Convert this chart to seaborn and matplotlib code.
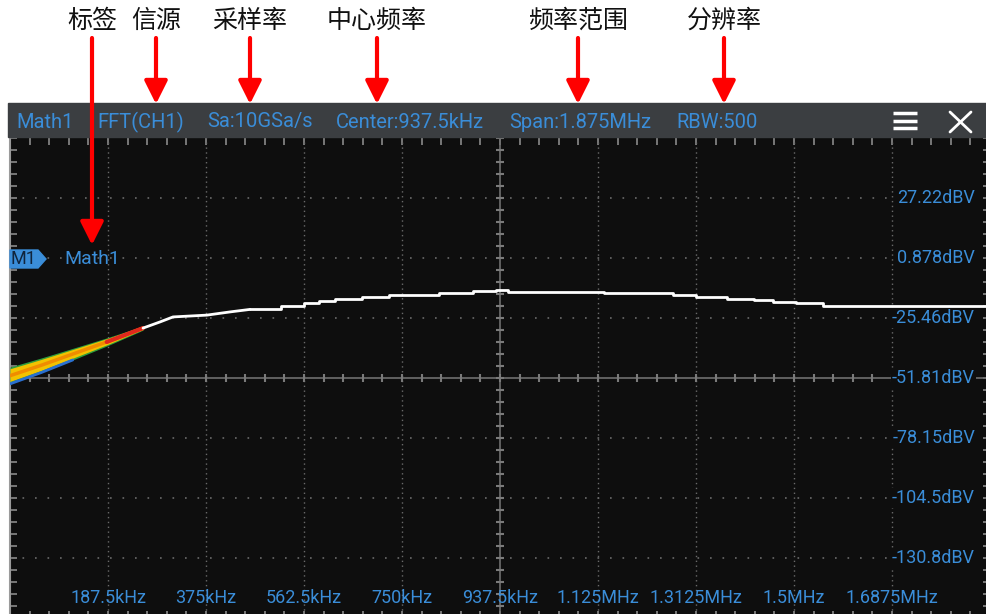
# FFT 频谱界面示意图（示波器截图重绘）
import matplotlib.pyplot as plt
import numpy as np
import seaborn as sns
from matplotlib.patches import Polygon, Rectangle

sns.set_style("dark")
plt.rcParams['font.family'] = ['Roboto', 'Noto Sans CJK SC', 'DejaVu Sans']
plt.rcParams['axes.unicode_minus'] = False

# ---- 数据：频率 kHz，幅度 dBV ----
ramp_freq = [254.5, 287.0, 311.9, 344.4, 376.9, 420.9, 459.2]
ramp_db = [-29.9, -27.2, -25.0, -24.6, -24.2, -22.8, -21.7]

step_freq = [459.2, 474.5, 518.5, 562.5, 591.2, 621.8, 673.5, 725.1, 769.1,
             820.8, 841.8, 885.8, 929.8, 952.8, 1136.5, 1268.5, 1312.5,
             1371.8, 1423.5, 1459.8, 1503.8, 1555.5, 1875.0]
step_db = [-21.7, -21.3, -20.0, -18.7, -17.9, -17.0, -16.1, -15.5, -15.2,
           -14.6, -14.3, -13.7, -13.1, -13.9, -14.5, -15.2, -16.1,
           -17.0, -17.6, -18.4, -19.1, -20.0, -20.0]

# 低频段余辉色带
band_freq = [0, 60, 120, 185, 254.5]
band_top = [-47.0, -43.0, -38.8, -34.2, -29.0]
band_mid = [-50.8, -46.2, -41.3, -36.0, -29.9]
band_bot = [-54.4, -49.4, -43.9, -37.8, -30.8]

freq_ticks = [187.5, 375, 562.5, 750, 937.5, 1125, 1312.5, 1500, 1687.5]
freq_labels = ["187.5kHz", "375kHz", "562.5kHz", "750kHz", "937.5kHz",
               "1.125MHz", "1.3125MHz", "1.5MHz", "1.6875MHz"]
db_ticks = [27.22, 0.878, -25.46, -51.81, -78.15, -104.5, -130.8]
db_labels = ["27.22dBV", "0.878dBV", "-25.46dBV", "-51.81dBV",
             "-78.15dBV", "-104.5dBV", "-130.8dBV"]

header_items = ["Math1", "FFT(CH1)", "Sa:10GSa/s", "Center:937.5kHz",
                "Span:1.875MHz", "RBW:500"]
header_x = [16, 97, 207, 336, 509, 676]

callouts = ["标签", "信源", "采样率", "中心频率", "频率范围", "分辨率"]
callout_x = [92, 156, 250, 377, 578, 724]
callout_tip = [245, 104, 104, 104, 104, 104]

BLUE = "#3a8dd8"
GRID = "#6a6a6a"
BG = "#0e0e0e"

fig = plt.figure(figsize=(9.87, 6.14), dpi=100)
fig.patch.set_facecolor("white")

# 主绘图区：10 格 x 8 格
ax = fig.add_axes([10 / 987, -4 / 614, 980 / 987, 480 / 614])
ax.set_facecolor(BG)
ax.grid(False)
x_div = 187.5
y_div = 26.34
ax.set_xlim(0, 10 * x_div)
ax.set_ylim(-51.81 - 4 * y_div, -51.81 + 4 * y_div)

for f in freq_ticks:
    if f != 937.5:
        ax.axvline(f, color=GRID, lw=1, ls=(0, (1, 2.5)), zorder=1)
for d in db_ticks:
    if d != -51.81:
        ax.axhline(d, color=GRID, lw=1.2, ls=(0, (1, 6.5)), zorder=1)

# 中心十字线及刻度
ax.axvline(937.5, color="#6f6f6f", lw=1.2, zorder=1)
ax.axhline(-51.81, color="#6f6f6f", lw=1.2, zorder=1)
minor_x = np.arange(0, 10 * x_div + 1, x_div / 5)
minor_y = np.arange(-51.81 - 4 * y_div, -51.81 + 4 * y_div + 0.1, y_div / 5)
ax.plot(minor_x, np.full_like(minor_x, -51.81), ls="none", marker="|",
        ms=6, mew=1.5, color="#7a7a7a", zorder=1)
ax.plot(np.full_like(minor_y, 937.5), minor_y, ls="none", marker="_",
        ms=6, mew=1.5, color="#7a7a7a", zorder=1)

ax.set_xticks(np.arange(0, 10 * x_div + 1, x_div))
ax.set_xticks(minor_x, minor=True)
ax.set_yticks(minor_y[::5])
ax.set_yticks(minor_y, minor=True)
ax.tick_params(which="both", direction="in", length=5, width=1.2,
               color="#8a8a8a", top=True, bottom=True, left=True, right=True,
               labelbottom=False, labelleft=False)
for side in ["top", "right", "bottom"]:
    ax.spines[side].set_visible(False)
ax.spines["left"].set_color("#9a9a9a")
ax.spines["left"].set_linewidth(1.5)

# 余辉色带
mid = np.array(band_mid)
top = np.array(band_top)
bot = np.array(band_bot)
ax.fill_between(band_freq, bot, top, color="#2e9e3e", lw=0, zorder=3)
ax.fill_between(band_freq, mid - 0.7 * (mid - bot), mid + 0.8 * (top - mid),
                color="#f2c200", lw=0, zorder=3)
ax.plot(band_freq, band_mid, color="#f08c00", lw=2.5, zorder=3)
ax.plot(band_freq[:3], band_bot[:3], color="#2a6fd0", lw=2, zorder=3)
ax.plot(band_freq[3:], band_mid[3:], color="#e0281c", lw=3, zorder=4)

# 白色频谱曲线
sns.lineplot(x=ramp_freq, y=ramp_db, ax=ax, color="white", lw=2,
             sort=False, estimator=None, zorder=5)
sns.lineplot(x=step_freq, y=step_db, ax=ax, color="white", lw=2,
             sort=False, estimator=None, drawstyle="steps-post", zorder=5)

# 刻度文字
for f, lab in zip(freq_ticks, freq_labels):
    ax.text(f, 0.0417, lab, transform=ax.get_xaxis_transform(), color=BLUE,
            fontsize=13, ha="center", va="center", zorder=6)
for d, lab in zip(db_ticks, db_labels):
    ax.text(0.9847, d, lab, transform=ax.get_yaxis_transform(), color=BLUE,
            fontsize=13, ha="right", va="center", zorder=6,
            bbox=dict(facecolor=BG, edgecolor="none", pad=0.5))

# 覆盖层（像素坐标）：标题栏、标注与箭头
ov = fig.add_axes([0, 0, 1, 1])
ov.set_xlim(0, 987)
ov.set_ylim(614, 0)
ov.axis("off")

ov.add_patch(Rectangle((8, 103), 979, 34, color="#3b3e41", zorder=1))
for x, s in zip(header_x, header_items):
    ov.text(x, 122, s, color=BLUE, fontsize=14.5, ha="left", va="center")
for yy in [113, 121, 128]:
    ov.plot([893, 917], [yy, yy], color="white", lw=2.5, solid_capstyle="butt")
ov.plot([950, 971], [112, 132], color="white", lw=2)
ov.plot([950, 971], [132, 112], color="white", lw=2)

ov.add_patch(Polygon([(10, 250), (38, 250), (46, 259), (38, 268), (10, 268)],
                     closed=True, color=BLUE, zorder=2))
ov.text(11, 259, "M1", color="#10253d", fontsize=13, ha="left", va="center",
        zorder=3)
ov.text(64, 259, "Math1", color=BLUE, fontsize=14, ha="left", va="center")

for x, s, tip in zip(callout_x, callouts, callout_tip):
    ov.text(x, 21, s, color="#111111", fontsize=18, ha="center", va="center",
            family=["Noto Sans CJK SC", "DejaVu Sans"])
    ov.annotate("", xy=(x, tip), xytext=(x, 38),
                arrowprops=dict(arrowstyle="-|>,head_length=0.5,head_width=0.25",
                                color="#ff0000", lw=3, mutation_scale=28,
                                shrinkA=0, shrinkB=0))

fig.savefig("out.png", dpi=100)
